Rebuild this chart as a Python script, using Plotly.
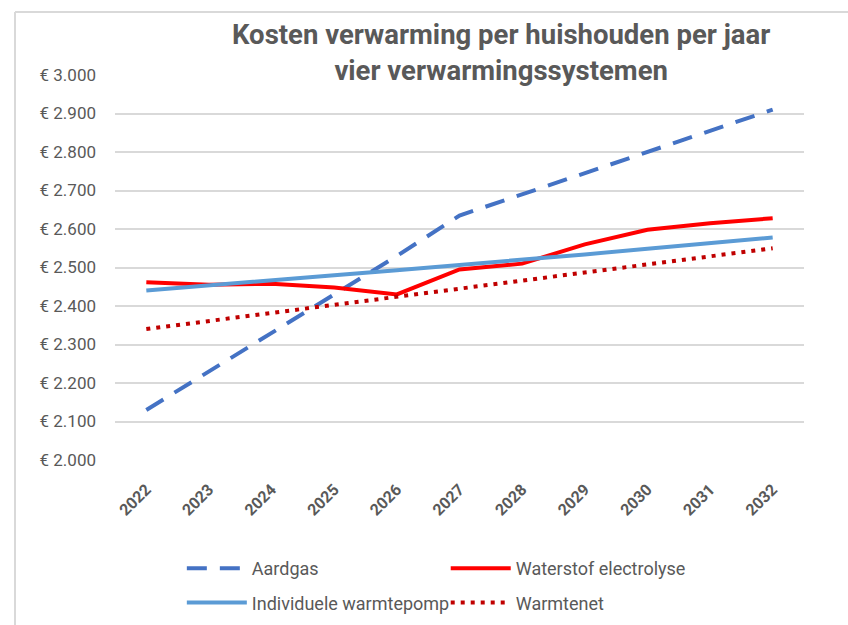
import plotly.graph_objects as go

years = ["2022", "2023", "2024", "2025", "2026", "2027", "2028", "2029", "2030", "2031", "2032"]
aardgas = [2130, 2230, 2330, 2430, 2530, 2635, 2690, 2745, 2800, 2855, 2910]
waterstof = [2462, 2455, 2458, 2448, 2430, 2495, 2510, 2560, 2598, 2615, 2628]
warmtepomp = [2440, 2454, 2467, 2480, 2493, 2506, 2520, 2534, 2549, 2564, 2578]
warmtenet = [2340, 2361, 2382, 2403, 2424, 2445, 2466, 2487, 2508, 2529, 2550]
y_ticks = [2000, 2100, 2200, 2300, 2400, 2500, 2600, 2700, 2800, 2900, 3000]
y_ticktext = ["€ 2.000", "€ 2.100", "€ 2.200", "€ 2.300", "€ 2.400", "€ 2.500",
              "€ 2.600", "€ 2.700", "€ 2.800", "€ 2.900", "€ 3.000"]

FONT = "Roboto, Arial, sans-serif"
GRAY = "#595959"

fig = go.Figure()
fig.add_trace(go.Scatter(x=years, y=aardgas, name="Aardgas", mode="lines",
                         legend="legend", legendgroup="a",
                         line=dict(color="#4472C4", width=4, dash="20px,13px")))
fig.add_trace(go.Scatter(x=years, y=waterstof, name="Waterstof electrolyse", mode="lines",
                         legend="legend2", legendgroup="b",
                         line=dict(color="#FF0000", width=4)))
fig.add_trace(go.Scatter(x=years, y=warmtepomp, name="Individuele warmtepomp", mode="lines",
                         legend="legend", legendgroup="c",
                         line=dict(color="#5B9BD5", width=4)))
fig.add_trace(go.Scatter(x=years, y=warmtenet, name="Warmtenet", mode="lines",
                         legend="legend2", legendgroup="d",
                         line=dict(color="#C00000", width=4, dash="4px,6px")))

legend_common = dict(orientation="v", xanchor="left", yref="container", y=0.12, yanchor="top",
                     font=dict(family=FONT, size=18, color=GRAY), tracegroupgap=8,
                     itemwidth=60, bgcolor="rgba(0,0,0,0)")

fig.update_layout(
    width=848, height=625,
    paper_bgcolor="white", plot_bgcolor="white",
    margin=dict(l=115, r=44, t=75, b=165),
    font=dict(family=FONT, color=GRAY, size=15),
    title=dict(text="<b>Kosten verwarming per huishouden per jaar<br>vier verwarmingssystemen</b>",
               x=0.591, xanchor="center", y=0.93, yanchor="top",
               font=dict(family=FONT, size=27.5, color=GRAY)),
    xaxis=dict(type="category", range=[-0.5, 10.5], showgrid=False, zeroline=False,
               showline=False, ticks="", tickangle=-45, ticklabelstandoff=16,
               tickfont=dict(family=FONT, size=16, color=GRAY, weight="bold")),
    yaxis=dict(range=[2000, 3000], tickvals=y_ticks, ticktext=y_ticktext,
               showgrid=True, gridcolor="#D9D9D9", gridwidth=1.5, zeroline=False,
               showline=False, ticks="", ticklabelstandoff=18,
               tickfont=dict(family=FONT, size=17, color=GRAY)),
    legend=dict(x=0.097, **legend_common),
    legend2=dict(x=0.48, **legend_common),
    showlegend=True,
    hovermode=False,
)

fig.add_shape(type="line", xref="paper", yref="paper",
              x0=(15 - 115) / 689, x1=(848 - 115) / 689, y0=(460 - 12) / 385, y1=(460 - 12) / 385,
              line=dict(color="#D9D9D9", width=2))
fig.add_shape(type="line", xref="paper", yref="paper",
              x0=(15 - 115) / 689, x1=(15 - 115) / 689, y0=(460 - 12) / 385, y1=(460 - 625) / 385,
              line=dict(color="#D9D9D9", width=2))

fig.write_html("out.html", config={"displayModeBar": False},
               post_script="document.body.style.margin='0px';")
